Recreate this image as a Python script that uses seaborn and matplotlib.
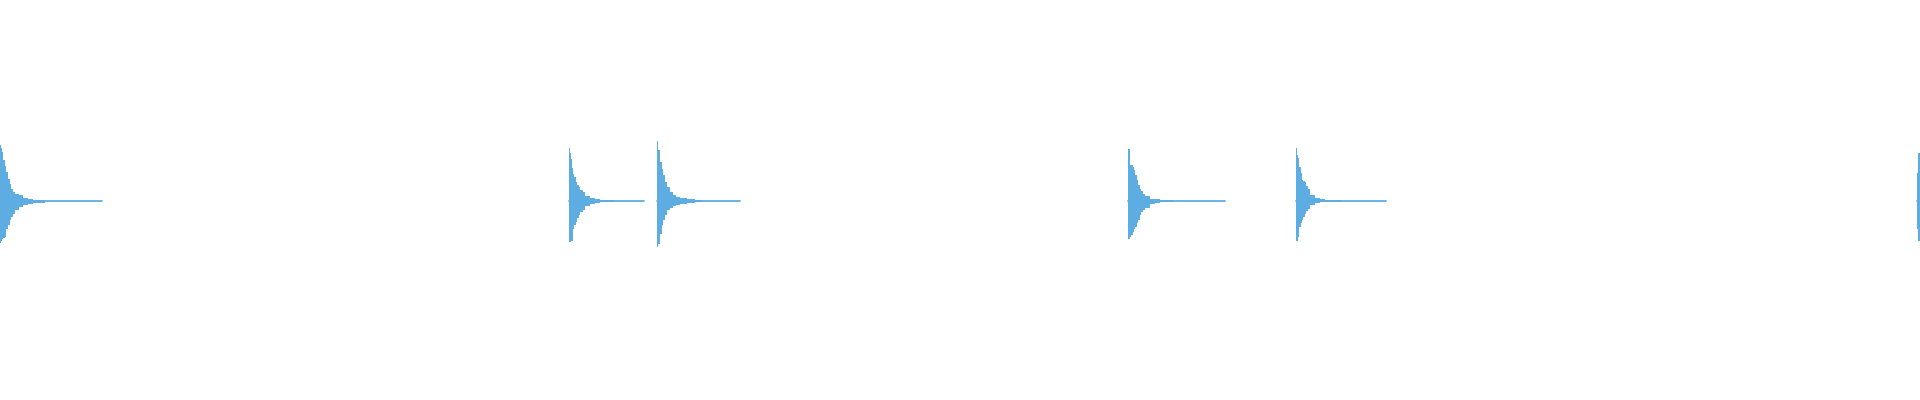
import numpy as np
import seaborn as sns
import matplotlib.pyplot as plt

# burst onsets and where the trailing flat line ends (time axis in ms)
burst_start = [0, 569, 657, 1128, 1296, 1917]
burst_end = [102, 644, 740, 1225, 1386, 1920]

# envelope of each burst: offset from onset (ms),
# upper and lower amplitude (normalised, full scale = 1)
burst_offset = [
    [0, 1, 2, 3, 5, 6, 8, 10, 11, 13, 15, 19, 23, 28, 33, 45],
    [0, 1, 2, 3, 4, 5, 7, 8, 10, 11, 14, 16, 21, 26, 31, 45],
    [0, 1, 3, 5, 6, 8, 10, 13, 16, 19, 23, 30, 38, 45],
    [0, 2, 3, 5, 6, 7, 9, 10, 12, 13, 15, 17, 22, 27, 32, 45],
    [0, 1, 2, 3, 5, 6, 7, 9, 10, 12, 14, 19, 24, 29, 45],
    [0, 1, 2, 3],
]
burst_upper = [
    [0.28, 0.265, 0.245, 0.205, 0.175, 0.145, 0.11, 0.085, 0.06, 0.045, 0.035, 0.03, 0.015, 0.01, 0.006, 0.003],
    [0.265, 0.24, 0.21, 0.165, 0.135, 0.12, 0.095, 0.08, 0.07, 0.055, 0.045, 0.025, 0.013, 0.008, 0.005, 0.003],
    [0.30, 0.255, 0.195, 0.16, 0.13, 0.095, 0.07, 0.045, 0.03, 0.02, 0.015, 0.008, 0.005, 0.003],
    [0.26, 0.18, 0.18, 0.17, 0.155, 0.13, 0.105, 0.08, 0.06, 0.05, 0.035, 0.025, 0.012, 0.008, 0.005, 0.003],
    [0.265, 0.23, 0.215, 0.17, 0.14, 0.105, 0.1, 0.095, 0.075, 0.06, 0.03, 0.015, 0.01, 0.005, 0.003],
    [0.14, 0.24, 0.24, 0.0],
]
burst_lower = [
    [0.21, 0.2, 0.19, 0.185, 0.18, 0.14, 0.12, 0.095, 0.08, 0.065, 0.045, 0.03, 0.02, 0.015, 0.01, 0.003],
    [0.205, 0.205, 0.2, 0.2, 0.14, 0.12, 0.105, 0.085, 0.07, 0.055, 0.045, 0.025, 0.015, 0.01, 0.005, 0.003],
    [0.23, 0.215, 0.165, 0.12, 0.095, 0.07, 0.045, 0.035, 0.025, 0.02, 0.015, 0.008, 0.005, 0.003],
    [0.19, 0.18, 0.17, 0.155, 0.14, 0.13, 0.11, 0.095, 0.07, 0.055, 0.045, 0.035, 0.015, 0.01, 0.005, 0.003],
    [0.2, 0.2, 0.18, 0.13, 0.11, 0.095, 0.08, 0.065, 0.05, 0.04, 0.02, 0.01, 0.007, 0.004, 0.003],
    [0.14, 0.2, 0.2, 0.0],
]

color = "#5dade2"

sns.set_theme(style="white")
fig = plt.figure(figsize=(19.2, 4.0), dpi=100)
ax = fig.add_axes([0, 0, 1, 1])

for i in range(len(burst_start)):
    t = np.array(burst_offset[i]) + burst_start[i]
    up = np.array(burst_upper[i])
    lo = -np.array(burst_lower[i])
    ax.fill_between(t, lo, up, step="post", color=color, linewidth=0)
    # flat decay tail
    sns.lineplot(x=[burst_start[i], burst_end[i]], y=[0, 0], ax=ax,
                 color=color, linewidth=1.3)

ax.set_xlim(0, 1920)
ax.set_ylim(-0.995, 1.005)
ax.axis("off")
fig.savefig("out.png", dpi=100, facecolor="white")
